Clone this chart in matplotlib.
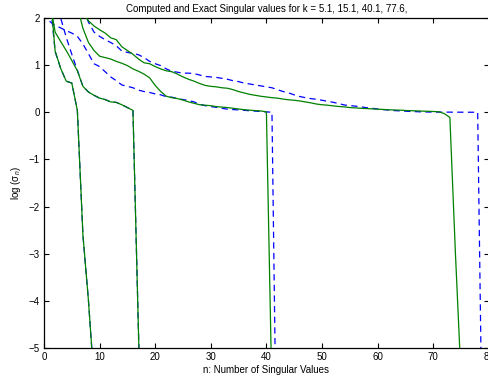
import numpy as np
import matplotlib
matplotlib.use("Agg")
import matplotlib.pyplot as plt

plt.rcParams['font.family'] = ['Liberation Sans', 'DejaVu Sans']
plt.rcParams['mathtext.fontset'] = 'custom'
plt.rcParams['mathtext.rm'] = 'Liberation Sans'
plt.rcParams['mathtext.it'] = 'Liberation Sans:italic'

k_values = [5.1, 15.1, 40.1, 77.6]

# log10 of computed singular values (solid green)
computed_k5 = [2.7, 1.30, 0.93, 0.66, 0.62, 0.04, -2.6, -4.0, -5.7, -8.0]
computed_k15 = [2.4, 1.70, 1.50, 1.31, 1.10, 0.88, 0.55, 0.43, 0.36, 0.30,
                0.27, 0.22, 0.21, 0.16, 0.10, 0.04, -4.7, -9.0]
computed_k40 = [4.0, 3.6, 3.2, 2.9, 2.6, 2.25, 1.78, 1.48, 1.31, 1.19,
                1.16, 1.13, 1.08, 1.04, 0.99, 0.92, 0.87, 0.81, 0.73, 0.57,
                0.44, 0.34, 0.31, 0.29, 0.26, 0.22, 0.19, 0.16, 0.15, 0.14,
                0.12, 0.11, 0.10, 0.085, 0.07, 0.055, 0.045, 0.036, 0.028, 0.01,
                -6.0, -12.0]
computed_k77 = [4.5, 4.0, 3.5, 3.1, 2.75, 2.4, 2.10, 1.94, 1.83, 1.75,
                1.68, 1.58, 1.54, 1.39, 1.31, 1.23, 1.13, 1.05, 1.03, 0.97,
                0.92, 0.88, 0.86, 0.81, 0.75, 0.70, 0.66, 0.61, 0.57, 0.55,
                0.54, 0.52, 0.51, 0.48, 0.44, 0.41, 0.38, 0.36, 0.34, 0.325,
                0.31, 0.30, 0.28, 0.265, 0.255, 0.24, 0.22, 0.20, 0.175, 0.16,
                0.15, 0.136, 0.123, 0.115, 0.10, 0.093, 0.085, 0.079, 0.072, 0.066,
                0.06, 0.053, 0.049, 0.045, 0.038, 0.034, 0.03, 0.025, 0.021, 0.017,
                0.011, -0.028, -0.11, -3.0, -5.6, -9.0]

# log10 of exact singular values (dashed blue)
exact_k5 = [2.5, 1.29, 0.93, 0.66, 0.62, 0.04, -2.6, -4.0, -5.7, -8.0]
exact_k15 = [3.0, 2.25, 2.0, 1.59, 1.23, 0.89, 0.55, 0.43, 0.36, 0.30,
             0.27, 0.22, 0.21, 0.16, 0.10, 0.04, -4.7, -9.0]
exact_k40 = [1.93, 1.84, 1.79, 1.73, 1.68, 1.61, 1.45, 1.24, 1.03, 0.97,
             0.86, 0.75, 0.67, 0.58, 0.55, 0.52, 0.47, 0.44, 0.42, 0.39,
             0.37, 0.33, 0.32, 0.29, 0.27, 0.25, 0.22, 0.17, 0.14, 0.12,
             0.106, 0.085, 0.066, 0.057, 0.051, 0.042, 0.032, 0.025, 0.017, 0.008,
             0.002, -9.0]
exact_k77 = [4.4, 3.9, 3.4, 3.0, 2.7, 2.45, 2.23, 1.91, 1.70, 1.61,
             1.54, 1.48, 1.41, 1.30, 1.27, 1.25, 1.22, 1.16, 1.08, 1.03,
             0.99, 0.92, 0.87, 0.85, 0.83, 0.83, 0.82, 0.79, 0.76, 0.75,
             0.74, 0.72, 0.70, 0.67, 0.65, 0.62, 0.60, 0.58, 0.56, 0.54,
             0.52, 0.48, 0.44, 0.41, 0.37, 0.335, 0.31, 0.29, 0.276, 0.255,
             0.234, 0.212, 0.185, 0.155, 0.142, 0.13, 0.115, 0.098, 0.085, 0.07,
             0.057, 0.047, 0.036, 0.03, 0.023, 0.017, 0.013, 0.008, 0.006, 0.005,
             0.004, 0.003, 0.003, 0.002, 0.002, 0.001, 0.001, 0.0, -8.6]

computed = [computed_k5, computed_k15, computed_k40, computed_k77]
exact = [exact_k5, exact_k15, exact_k40, exact_k77]

x_ticks = [0, 10, 20, 30, 40, 50, 60, 70, 80]
y_ticks = [-5, -4, -3, -2, -1, 0, 1, 2]

fig = plt.figure(figsize=(4.88, 3.76), dpi=100)
ax = fig.add_axes([44 / 488, 28 / 376, 444.8 / 488, 330 / 376])

for comp, ex in zip(computed, exact):
    ax.plot(np.arange(1, len(ex) + 1), ex, color='#0000ff', lw=0.9,
            dashes=(5, 3.5), zorder=2)
    ax.plot(np.arange(1, len(comp) + 1), comp, color='#008000', lw=0.9,
            zorder=3)

ax.set_xlim(0, 80)
ax.set_ylim(-5, 2)
ax.set_xticks(x_ticks)
ax.set_yticks(y_ticks)
ax.set_yticklabels(['\u22125', '\u22124', '\u22123', '\u22122', '\u22121', '0', '1', '2'])
ax.tick_params(direction='in', top=True, right=True, length=3.5, width=0.8,
               labelsize=7, pad=3)
for s in ax.spines.values():
    s.set_linewidth(0.9)

title = 'Computed and Exact Singular values for k = ' + ''.join(f'{k}, ' for k in k_values).rstrip()
ax.set_title(title, fontsize=7, pad=4)
ax.set_xlabel('n: Number of Singular Values', fontsize=7, labelpad=2)
ax.set_ylabel('log (\u03c3$_n$)', fontsize=7, labelpad=4)

fig.savefig('out.png', dpi=100)
